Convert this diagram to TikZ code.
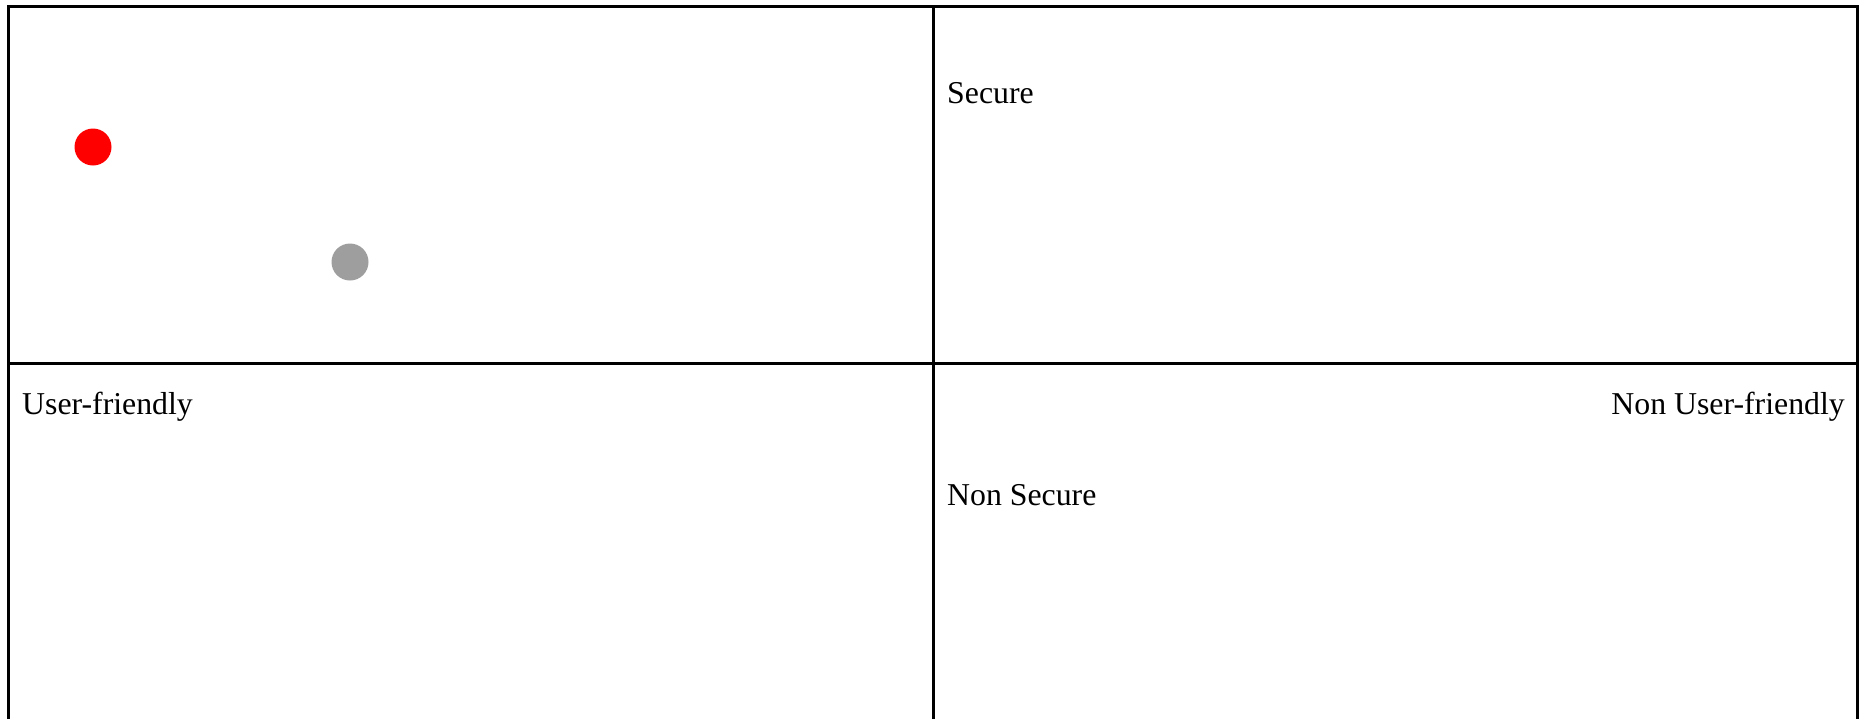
\documentclass[tikz,border=0pt]{standalone}
\usepackage{fontspec}
\setmainfont{Liberation Serif}
\definecolor{dotgray}{HTML}{9E9E9E}
\begin{document}
\begin{tikzpicture}[x=1pt,y=-1pt,
  frame/.style={draw=black,line width=3pt},
  lbl/.style={inner sep=0pt,font=\fontsize{31.8}{36}\selectfont},
  dot/.style={circle,inner sep=0pt,minimum size=37pt}]
\useasboundingbox (0,0) rectangle (1859,718);
\fill[white] (0,0) rectangle (1859,718);
\coordinate (bl) at (8,720);
\coordinate (tl) at (8,6);
\coordinate (tr) at (1857,6);
\coordinate (br) at (1857,720);
\coordinate (ml) at (8,363);
\coordinate (mr) at (1857,363);
\coordinate (mt) at (933,6);
\coordinate (mb) at (933,720);
\draw[frame,line join=miter] (bl) -- (tl) -- (tr) -- (br);
\draw[frame] (ml) -- (mr);
\draw[frame] (mt) -- (mb);
\node[dot,fill=red] (red) at (93,147) {};
\node[dot,fill=dotgray] (gray) at (350,262) {};
\node[lbl,anchor=base west] (sec) at (947,103) {Secure};
\node[lbl,anchor=base west] (uf) at (22,414) {User-friendly};
\node[lbl,anchor=base east] (nuf) at (1845,414) {Non User-friendly};
\node[lbl,anchor=base west] (nsec) at (947,505) {Non Secure};
\end{tikzpicture}
\end{document}
